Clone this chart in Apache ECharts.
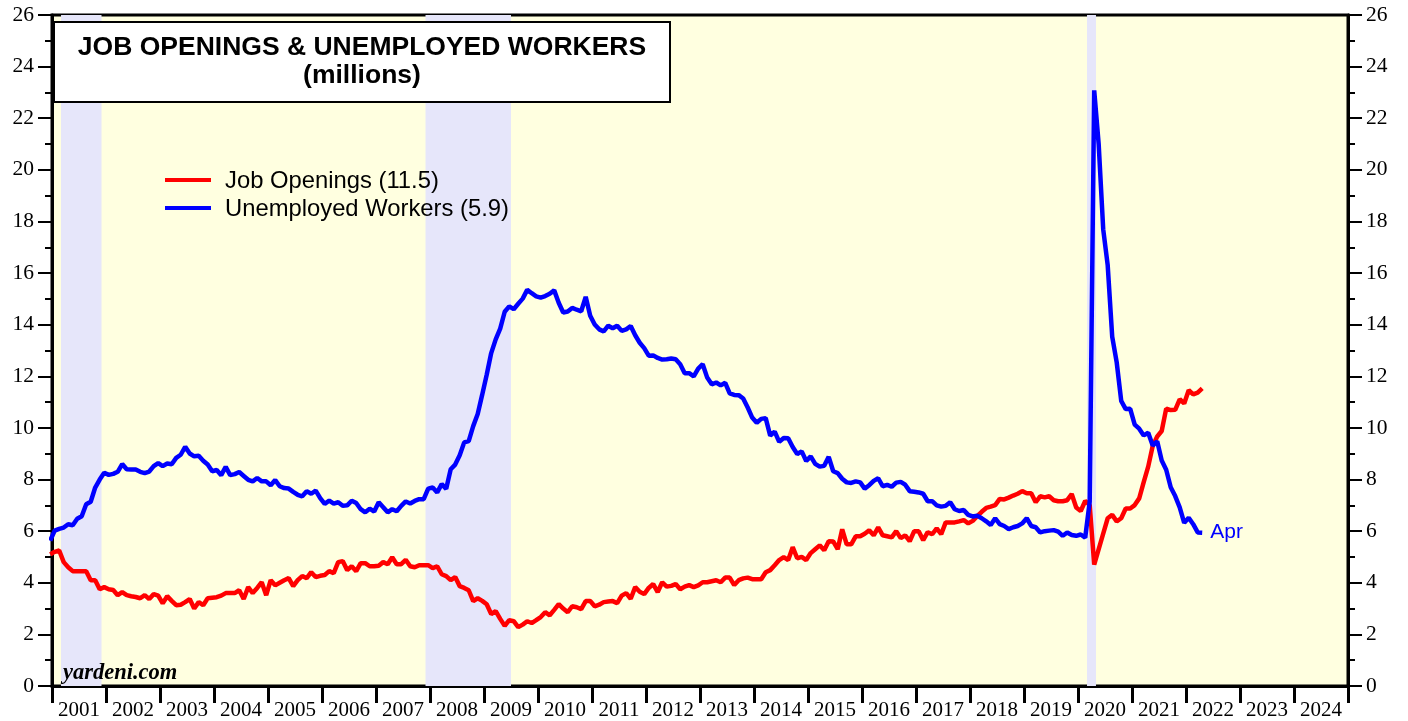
<!DOCTYPE html>
<html><head><meta charset="utf-8">
<script src="https://cdn.jsdelivr.net/npm/echarts@6/dist/echarts.min.js"></script>
<style>html,body{margin:0;padding:0;background:#fff}#c{width:1408px;height:721px}</style>
</head><body><div id="c"></div>
<script>
// Monthly data, first value = Dec 2000, last value = Apr 2022 (millions)
const firstYear = 2000, firstMonth = 12;
const jobOpenings = [
  5.10,
  5.20,5.25,4.80,4.60,4.45,4.45,4.45,4.45,4.10,4.10,3.75,3.83,
  3.75,3.72,3.52,3.64,3.52,3.48,3.45,3.40,3.52,3.37,3.56,3.50,
  3.20,3.48,3.30,3.13,3.15,3.25,3.37,3.00,3.25,3.13,3.40,3.42,
  3.44,3.50,3.60,3.60,3.60,3.71,3.37,3.83,3.60,3.80,4.02,3.52,
  4.10,3.90,4.00,4.10,4.18,3.87,4.10,4.26,4.18,4.41,4.22,4.27,
  4.30,4.45,4.37,4.80,4.84,4.49,4.64,4.45,4.76,4.76,4.64,4.64,
  4.66,4.80,4.72,4.99,4.72,4.72,4.89,4.64,4.60,4.68,4.68,4.68,
  4.57,4.64,4.33,4.26,4.10,4.22,3.87,3.80,3.71,3.29,3.40,3.30,
  3.17,2.79,2.90,2.60,2.33,2.55,2.51,2.28,2.38,2.51,2.44,2.55,
  2.67,2.86,2.74,2.95,3.17,3.00,2.86,3.09,3.05,2.98,3.29,3.29,
  3.09,3.15,3.25,3.27,3.29,3.21,3.50,3.60,3.38,3.83,3.65,3.56,
  3.80,3.95,3.64,4.02,3.85,3.88,3.95,3.75,3.85,3.91,3.83,3.90,
  4.02,4.02,4.06,4.10,4.02,4.20,4.20,3.91,4.10,4.17,4.20,4.14,
  4.14,4.14,4.41,4.49,4.68,4.88,4.99,4.88,5.38,4.95,5.00,4.88,
  5.15,5.30,5.45,5.26,5.61,5.60,5.30,6.07,5.49,5.49,5.80,5.80,
  5.90,6.03,5.84,6.15,5.84,5.80,5.76,6.00,5.73,5.84,5.61,6.00,
  6.00,5.65,5.96,5.88,6.11,5.88,6.34,6.34,6.34,6.38,6.43,6.30,
  6.40,6.58,6.75,6.90,6.95,7.01,7.25,7.23,7.30,7.38,7.45,7.55,
  7.47,7.47,7.12,7.35,7.31,7.35,7.20,7.16,7.16,7.20,7.44,6.92,
  6.78,7.17,7.01,4.70,5.30,5.90,6.50,6.63,6.38,6.50,6.88,6.88,
  7.01,7.27,7.90,8.50,9.30,9.67,9.88,10.75,10.69,10.70,11.11,10.95,
  11.46,11.30,11.37,11.53
];
const unemployedWorkers = [
  5.63,
  6.02,6.09,6.14,6.27,6.23,6.48,6.58,7.04,7.14,7.69,8.00,8.26,
  8.18,8.22,8.30,8.60,8.40,8.39,8.39,8.30,8.25,8.31,8.52,8.64,
  8.52,8.62,8.59,8.84,8.96,9.27,9.01,8.90,8.92,8.73,8.58,8.32,
  8.37,8.17,8.49,8.17,8.21,8.29,8.14,7.99,7.93,8.06,7.93,7.93,
  7.78,7.98,7.74,7.67,7.65,7.52,7.41,7.35,7.55,7.45,7.57,7.28,
  7.06,7.18,7.07,7.12,6.98,7.00,7.18,7.09,6.85,6.73,6.87,6.76,
  7.12,6.93,6.73,6.85,6.77,6.98,7.15,7.07,7.17,7.24,7.24,7.65,
  7.69,7.50,7.82,7.64,8.40,8.58,8.94,9.44,9.49,10.07,10.54,11.29,
  12.06,12.90,13.43,13.85,14.50,14.71,14.60,14.81,15.01,15.35,15.22,15.10,
  15.05,15.11,15.20,15.33,14.85,14.47,14.51,14.65,14.58,14.52,15.08,14.35,
  14.01,13.82,13.74,13.96,13.86,13.96,13.76,13.82,13.95,13.59,13.30,13.09,
  12.80,12.81,12.71,12.65,12.66,12.69,12.66,12.47,12.12,12.12,12.00,12.30,
  12.47,11.95,11.69,11.76,11.65,11.75,11.34,11.28,11.27,11.14,10.79,10.40,
  10.20,10.35,10.38,9.70,9.86,9.46,9.61,9.60,9.26,8.99,9.09,8.72,
  8.90,8.61,8.50,8.53,8.88,8.32,8.25,8.03,7.89,7.87,7.93,7.89,
  7.65,7.78,7.95,8.05,7.74,7.79,7.72,7.88,7.91,7.80,7.55,7.53,
  7.50,7.45,7.16,7.16,7.00,6.95,6.98,7.12,6.85,6.78,6.82,6.63,
  6.57,6.60,6.50,6.38,6.24,6.50,6.27,6.20,6.08,6.15,6.20,6.30,
  6.50,6.20,6.15,5.95,6.00,6.02,6.04,5.98,5.82,5.95,5.85,5.82,
  5.87,5.75,7.14,23.08,20.98,17.70,16.30,13.54,12.54,11.05,10.73,10.74,
  10.13,9.97,9.71,9.81,9.32,9.48,8.74,8.38,7.70,7.36,6.92,6.32,
  6.52,6.27,5.95,5.94
];
const recessions = [[2001.167, 2001.917], [2007.917, 2009.5], [2020.167, 2020.333]];
const yearTicks = [];
for (let y = 2001; y <= 2025; y++) yearTicks.push(y);
const yearLabelPos = yearTicks.slice(0, -1).map(y => y + 0.5);
const seriesNames = ['Job Openings (11.5)', 'Unemployed Workers (5.9)'];
const lastLabel = 'Apr';

function toPoints(arr) {
  return arr.map((v, i) => [firstYear + (firstMonth - 1 + i + 0.6) / 12, v]);
}

const chart = echarts.init(document.getElementById('c'), null, {renderer: 'canvas'});
const serif = '"Liberation Serif", "Times New Roman", serif';
const sans = '"Liberation Sans", Arial, sans-serif';
const yAxisBase = {
  type: 'value', min: 0, max: 26, interval: 2,
  axisLine: {show: true, lineStyle: {color: '#000', width: 3}},
  axisTick: {show: true, length: 14, lineStyle: {color: '#000', width: 2}},
  minorTick: {show: true, splitNumber: 2, length: 7, lineStyle: {color: '#000', width: 2}},
  splitLine: {show: false},
  axisLabel: {fontFamily: serif, fontSize: 21.5, color: '#000', margin: 18, padding: [4, 0, 0, 0]}
};
chart.setOption({
  animation: false,
  backgroundColor: '#fff',
  grid: {left: 52, right: 60, top: 15, bottom: 34, show: true, backgroundColor: '#FFFFE0', borderColor: '#000', borderWidth: 3},
  xAxis: {
    type: 'value', min: 2001, max: 2025,
    axisLine: {show: true, onZero: false, lineStyle: {color: '#000', width: 3}},
    axisTick: {show: true, customValues: yearTicks, length: 17, lineStyle: {color: '#000', width: 3}},
    axisLabel: {customValues: yearLabelPos, formatter: v => String(Math.floor(v)), fontFamily: serif, fontSize: 21, color: '#000', margin: 14},
    splitLine: {show: false}
  },
  yAxis: [
    Object.assign({}, yAxisBase, {position: 'left'}),
    Object.assign({}, yAxisBase, {position: 'right'})
  ],
  series: [
    {
      type: 'line', name: 'recessions', data: [], silent: true, z: 1,
      markArea: {silent: true, itemStyle: {color: '#E6E6FA'}, data: recessions.map(r => [{xAxis: r[0]}, {xAxis: r[1]}])}
    },
    {
      type: 'line', name: seriesNames[0], data: toPoints(jobOpenings), showSymbol: false, z: 3,
      lineStyle: {color: '#FF0000', width: 4.5}, itemStyle: {color: '#FF0000'}
    },
    {
      type: 'line', name: seriesNames[1], data: toPoints(unemployedWorkers), showSymbol: false, z: 4,
      lineStyle: {color: '#0000FF', width: 4.5}, itemStyle: {color: '#0000FF'},
      endLabel: {show: true, formatter: lastLabel, color: '#0000FF', fontFamily: sans, fontSize: 21, distance: 8, padding: [4, 0, 0, 0]}
    }
  ],
  graphic: [
    {type: 'rect', shape: {x: 54, y: 22, width: 616, height: 80}, style: {fill: '#fff', stroke: '#000', lineWidth: 2}, z: 100},
    {type: 'text', x: 362, y: 48, style: {text: 'JOB OPENINGS & UNEMPLOYED WORKERS', align: 'center', verticalAlign: 'middle', font: 'bold 26.5px ' + sans, fill: '#000'}, z: 101},
    {type: 'text', x: 362, y: 76, style: {text: '(millions)', align: 'center', verticalAlign: 'middle', font: 'bold 26.5px ' + sans, fill: '#000'}, z: 101},
    {type: 'line', shape: {x1: 165, y1: 180, x2: 211, y2: 180}, style: {stroke: '#FF0000', lineWidth: 4}, z: 100},
    {type: 'text', x: 225, y: 181, style: {text: seriesNames[0], verticalAlign: 'middle', font: '23.8px ' + sans, fill: '#000'}, z: 101},
    {type: 'line', shape: {x1: 165, y1: 208, x2: 211, y2: 208}, style: {stroke: '#0000FF', lineWidth: 4}, z: 100},
    {type: 'text', x: 225, y: 209, style: {text: seriesNames[1], verticalAlign: 'middle', font: '23.8px ' + sans, fill: '#000'}, z: 101},
    {type: 'text', x: 63, y: 673, style: {text: 'yardeni.com', verticalAlign: 'middle', font: 'italic bold 22.5px ' + serif, fill: '#000'}, z: 101}
  ]
});
</script>
</body></html>
